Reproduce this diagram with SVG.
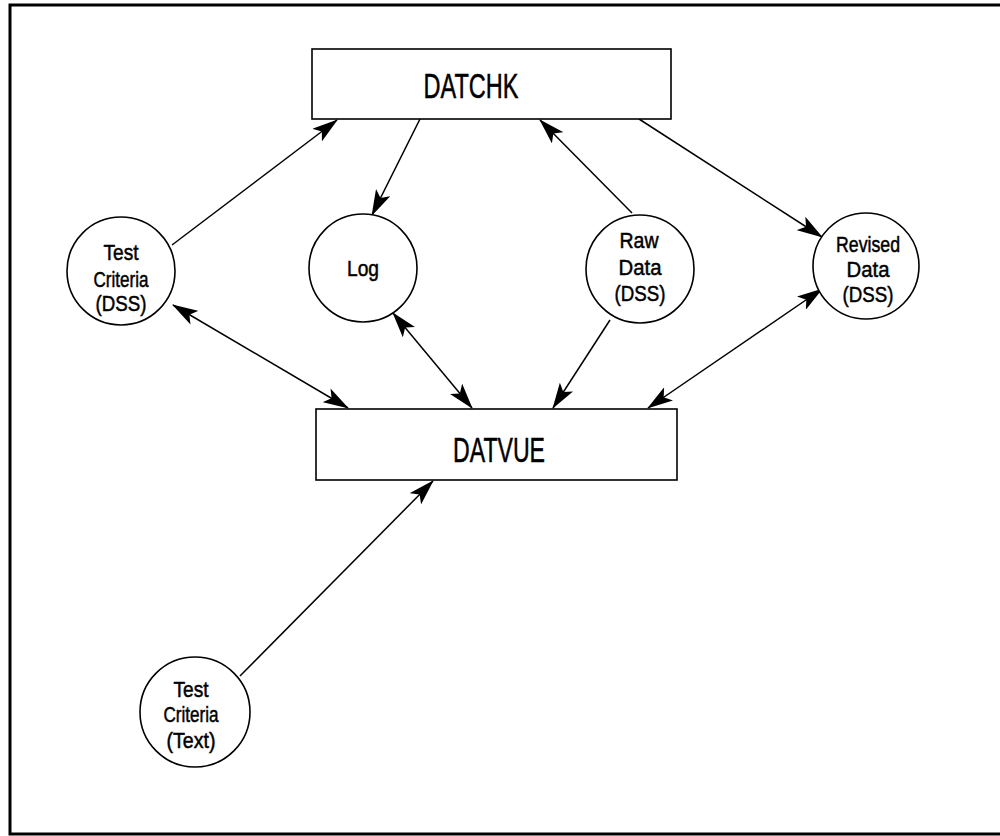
<svg xmlns="http://www.w3.org/2000/svg" width="1000" height="836" viewBox="0 0 1000 836">
<style>
.frame{fill:none;stroke:#000;stroke-width:3}
.box{fill:#fff;stroke:#000;stroke-width:1.6}
.node{fill:#fff;stroke:#000;stroke-width:1.6}
.edge{fill:none;stroke:#000;stroke-width:1.5}
.lbl{font-family:"Liberation Sans",Arial,sans-serif;fill:#000;stroke:#000;stroke-width:0.5;text-anchor:middle}
.big{font-size:35px}
.small{font-size:22.5px}
</style>
<defs>
<marker id="ah" viewBox="0 0 26 16" refX="25" refY="8" markerWidth="26" markerHeight="16" markerUnits="userSpaceOnUse" orient="auto-start-reverse">
<path d="M0,0 L26,8 L0,16 L6,8 z" fill="#000"/>
</marker>
</defs>
<rect width="1000" height="836" fill="#fff"/>
<path class="frame" d="M1000,5 L10,5 L10,834 L1000,834"/>
<g id="connectors">
<line class="edge" x1="172" y1="245" x2="337" y2="120" marker-end="url(#ah)"/>
<line class="edge" x1="420" y1="119" x2="372" y2="215" marker-end="url(#ah)"/>
<line class="edge" x1="632" y1="213" x2="540" y2="120" marker-end="url(#ah)"/>
<line class="edge" x1="639" y1="119" x2="822" y2="237" marker-end="url(#ah)"/>
<line class="edge" x1="173" y1="305" x2="348" y2="408" marker-start="url(#ah)" marker-end="url(#ah)"/>
<line class="edge" x1="393" y1="313" x2="472" y2="408" marker-start="url(#ah)" marker-end="url(#ah)"/>
<line class="edge" x1="610" y1="320" x2="553" y2="408" marker-end="url(#ah)"/>
<line class="edge" x1="822" y1="289" x2="648" y2="408" marker-start="url(#ah)" marker-end="url(#ah)"/>
<line class="edge" x1="240" y1="676" x2="433" y2="481" marker-end="url(#ah)"/>
</g>
<g id="datchk">
<rect class="box" x="312" y="49" width="359" height="70"/>
<text class="lbl big" x="471" y="98" textLength="95" lengthAdjust="spacingAndGlyphs">DATCHK</text>
</g>
<g id="datvue">
<rect class="box" x="316" y="409" width="361" height="71"/>
<text class="lbl big" x="499" y="462" textLength="92" lengthAdjust="spacingAndGlyphs">DATVUE</text>
</g>
<g id="test-criteria-dss">
<circle class="node" cx="121" cy="271" r="54"/>
<text class="lbl small" x="121" y="260" textLength="35" lengthAdjust="spacingAndGlyphs">Test</text>
<text class="lbl small" x="121" y="287" textLength="55" lengthAdjust="spacingAndGlyphs">Criteria</text>
<text class="lbl small" x="121" y="311" textLength="51" lengthAdjust="spacingAndGlyphs">(DSS)</text>
</g>
<g id="log">
<circle class="node" cx="363" cy="268" r="54"/>
<text class="lbl small" x="363" y="276" textLength="32" lengthAdjust="spacingAndGlyphs">Log</text>
</g>
<g id="raw-data">
<circle class="node" cx="640" cy="269" r="54"/>
<text class="lbl small" x="639" y="248" textLength="39" lengthAdjust="spacingAndGlyphs">Raw</text>
<text class="lbl small" x="640" y="275" textLength="43" lengthAdjust="spacingAndGlyphs">Data</text>
<text class="lbl small" x="640" y="301" textLength="51" lengthAdjust="spacingAndGlyphs">(DSS)</text>
</g>
<g id="revised-data">
<circle class="node" cx="866" cy="266" r="53"/>
<text class="lbl small" x="868" y="252" textLength="64" lengthAdjust="spacingAndGlyphs">Revised</text>
<text class="lbl small" x="868" y="277" textLength="43" lengthAdjust="spacingAndGlyphs">Data</text>
<text class="lbl small" x="868" y="302" textLength="51" lengthAdjust="spacingAndGlyphs">(DSS)</text>
</g>
<g id="test-criteria-text">
<circle class="node" cx="195" cy="712" r="55"/>
<text class="lbl small" x="191" y="697" textLength="35" lengthAdjust="spacingAndGlyphs">Test</text>
<text class="lbl small" x="191" y="722" textLength="55" lengthAdjust="spacingAndGlyphs">Criteria</text>
<text class="lbl small" x="191" y="748" textLength="49" lengthAdjust="spacingAndGlyphs">(Text)</text>
</g>
</svg>
